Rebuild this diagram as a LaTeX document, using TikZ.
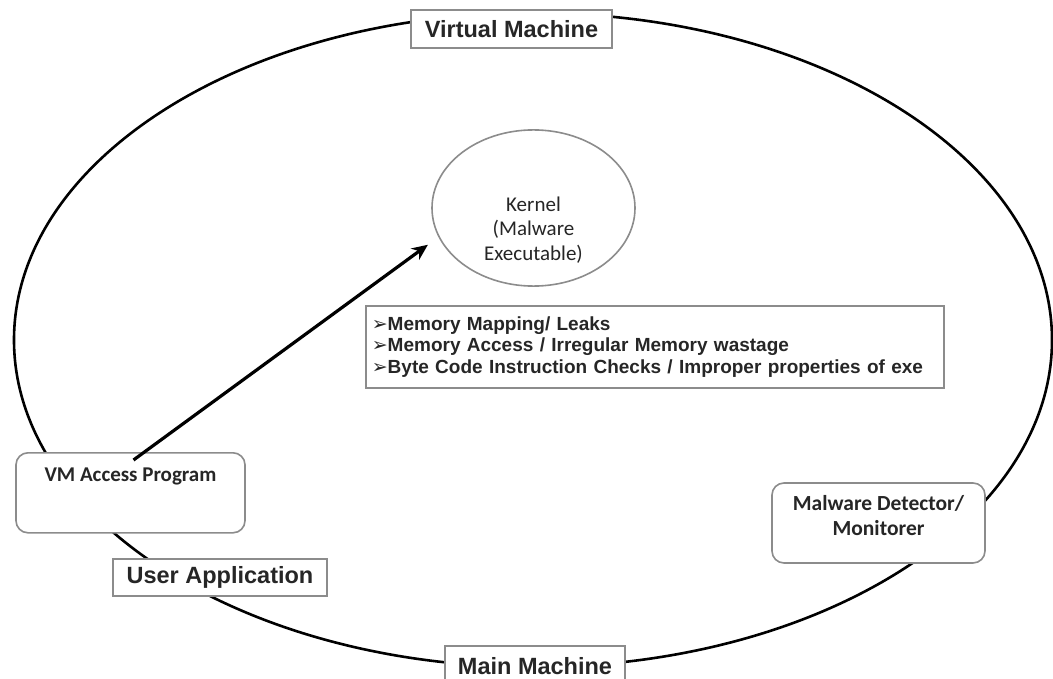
\documentclass[tikz,border=0pt]{standalone}
\usepackage{fontspec}
\setmainfont{Liberation Sans}
\newfontfamily\calibri{Carlito}
\newfontfamily\dejavu{DejaVu Sans}
\usetikzlibrary{arrows.meta,shapes.geometric}
\definecolor{boxgray}{HTML}{8C8C8C}
\definecolor{txt}{HTML}{262626}
\tikzset{
  labelbox/.style={draw=boxgray, line width=1.6pt, fill=white, font=\fontsize{23.5}{26}\selectfont\bfseries, text=txt, inner sep=0pt},
  roundbox/.style={draw=boxgray, line width=1.6pt, fill=white, rounded corners=12pt, inner sep=0pt, text=txt},
  outerring/.style={draw=black, line width=2.6pt},
  kernelshape/.style={ellipse, draw=boxgray, line width=1.6pt, fill=white, inner sep=0pt, text=txt, align=center, font=\calibri\fontsize{21}{24.5}\selectfont},
  bulletbox/.style={draw=boxgray, line width=1.6pt, fill=white, text=txt, align=left, inner sep=0pt, font=\fontsize{19}{21.5}\selectfont\bfseries},
  mainarrow/.style={draw=black, line width=3.2pt, -{Stealth[length=16pt,width=14pt]}}
}
\newcommand{\blt}{{\dejavu\fontsize{19}{21}\selectfont ➢}}
\begin{document}
\begin{tikzpicture}[x=1pt,y=-1pt]
\useasboundingbox (0,0) rectangle (1053,679);
\fill[white] (0,0) rectangle (1053,679);
% outer ring (virtual/main machine boundary)
\draw[outerring] (533,340) ellipse [x radius=519pt, y radius=327pt];

% kernel
\node[kernelshape, minimum width=203pt, minimum height=150pt] (kernel) at (533.5,208) {\mbox{}\\[34pt]Kernel\\(Malware\\Executable)};

% bullet box
\node[bulletbox, anchor=west, minimum width=578pt, minimum height=82pt, text width=566pt] (checks) at (365,347)
 {\blt Memory Mapping/ Leaks\\
  \blt Memory Access / Irregular Memory wastage\\
  \blt Byte Code Instruction Checks / Improper properties of exe};

% boxes on the ring
\node[labelbox, minimum width=201pt, minimum height=38pt] (vm) at (511.5,29) {Virtual Machine};
\node[labelbox, minimum width=180pt, minimum height=44pt, anchor=north] (mm) at (535,645) {\raisebox{4pt}{Main Machine}};
\node[labelbox, minimum width=214pt, minimum height=37pt] (ua) at (220,577.5) {User Application};
\node[roundbox, minimum width=229pt, minimum height=80pt, anchor=north,
  label={[anchor=north, yshift=-12pt, text=txt, font=\calibri\bfseries\fontsize{21}{24}\selectfont]north:VM Access Program}] (vmacc) at (130.5,452) {};
\node[roundbox, minimum width=213pt, minimum height=80pt, align=center, font=\calibri\bfseries\fontsize{21.5}{25}\selectfont] (det) at (878.5,523) {Malware Detector/\\Monitorer\\[-10pt]\mbox{}};

% arrow
\draw[mainarrow, shorten >=13pt] ([xshift=3pt,yshift=-8pt]vmacc.north) -- (kernel.197);
\end{tikzpicture}
\end{document}
